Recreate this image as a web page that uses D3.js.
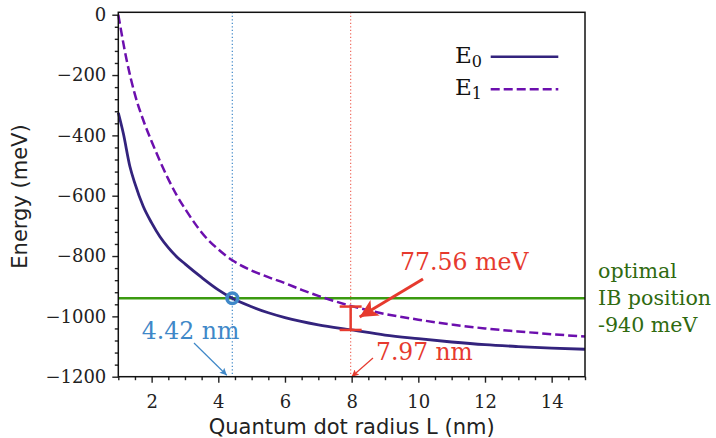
<!DOCTYPE html>
<html><head><meta charset="utf-8">
<script src="https://cdn.jsdelivr.net/npm/d3@7"></script>
<style>body{margin:0;background:#fff}</style>
</head><body>
<svg id="chart" width="716" height="438"></svg>
<script>
// Data
const radiusE0 = [1, 1.15, 1.35, 1.5, 1.75, 2, 2.25, 2.5, 2.75, 3, 3.5, 4, 4.42, 5, 5.5, 6, 7, 8, 9, 10, 11, 12, 13, 14, 15];
const energyE0 = [-325, -393, -504, -560, -636, -690, -736, -772, -802, -826, -871, -912, -940, -968, -988, -1004, -1028, -1045, -1062, -1074, -1085, -1094, -1100, -1105, -1109];
const radiusE1 = [1, 1.25, 1.5, 1.75, 2, 2.25, 2.5, 2.75, 3, 3.35, 3.5, 4, 4.42, 5, 5.5, 6, 6.5, 7, 7.5, 8, 9, 10, 11, 12, 13, 14, 15];
const energyE1 = [0, -150, -265, -350, -420, -485, -545, -598, -643, -700, -722, -778, -814, -848, -870, -890, -912, -932, -950, -966, -992, -1011, -1027, -1040, -1050, -1059, -1067];
const xTicks = [2, 4, 6, 8, 10, 12, 14];
const yTicks = [0, -200, -400, -600, -800, -1000, -1200];
const seriesNames = ["E0", "E1"];
const ibPosition = -940;
const crossingRadius = 4.42;
const gapRadius = 7.97;
const gapTop = -967.5;
const gapBottom = -1045;
const gapLabel = "77.56 meV";

(function () {
const svg = d3.select("#chart");
const pLeft = 118.3, pRight = 585, pTop = 12.3, pBottom = 376.7;
const x = d3.scaleLinear().domain([1, 15]).range([pLeft, pRight]);
const y = d3.scaleLinear().domain([-1200, 8]).range([pBottom, pTop]);

const colE0 = "#33237d", colE1 = "#6c0fae", colGreen = "#3b9a10", colBlue = "#3f88c8", colRed = "#e63a2e", colText = "#2f6a10";
const serif = "DejaVu Serif";

const defs = svg.append("defs");
defs.append("marker").attr("id","bigred").attr("viewBox","0 0 10 10").attr("refX",10).attr("refY",5)
  .attr("markerUnits","userSpaceOnUse").attr("markerWidth",22).attr("markerHeight",18).attr("orient","auto")
  .append("path").attr("d","M0,0 L10,5 L0,10 L2.5,5 Z").attr("fill",colRed);
defs.append("marker").attr("id","smallred").attr("viewBox","0 0 10 10").attr("refX",10).attr("refY",5)
  .attr("markerUnits","userSpaceOnUse").attr("markerWidth",9).attr("markerHeight",7).attr("orient","auto")
  .append("path").attr("d","M0,0 L10,5 L0,10 L2,5 Z").attr("fill",colRed);
defs.append("marker").attr("id","smallblue").attr("viewBox","0 0 10 10").attr("refX",10).attr("refY",5)
  .attr("markerUnits","userSpaceOnUse").attr("markerWidth",9).attr("markerHeight",7).attr("orient","auto")
  .append("path").attr("d","M0,0 L10,5 L0,10 L2,5 Z").attr("fill",colBlue);

// vertical dotted guides
svg.append("line").attr("x1", x(crossingRadius)).attr("x2", x(crossingRadius)).attr("y1", pTop).attr("y2", pBottom)
  .attr("stroke", colBlue).attr("stroke-width", 1.2).attr("stroke-dasharray", "1.3,2.2");
svg.append("line").attr("x1", x(gapRadius)).attr("x2", x(gapRadius)).attr("y1", pTop).attr("y2", pBottom)
  .attr("stroke", "#ef6a5e").attr("stroke-width", 1.2).attr("stroke-dasharray", "1.3,2.2");

// green IB line
svg.append("line").attr("x1", x(1)).attr("x2", x(15)).attr("y1", y(ibPosition)).attr("y2", y(ibPosition))
  .attr("stroke", colGreen).attr("stroke-width", 2.6);

// curves
const line = d3.line().curve(d3.curveMonotoneX);
svg.append("path").attr("d", line(radiusE1.map((r,i)=>[x(r), y(energyE1[i])])))
  .attr("fill","none").attr("stroke", colE1).attr("stroke-width", 2.5).attr("stroke-dasharray","9,4");
svg.append("path").attr("d", line(radiusE0.map((r,i)=>[x(r), y(energyE0[i])])))
  .attr("fill","none").attr("stroke", colE0).attr("stroke-width", 2.8);

// marker circle
svg.append("circle").attr("cx", x(crossingRadius)).attr("cy", y(ibPosition)).attr("r", 5.3)
  .attr("fill","none").attr("stroke", colBlue).attr("stroke-width", 3.6);

// error bar
const gx = x(gapRadius);
svg.append("line").attr("x1",gx).attr("x2",gx).attr("y1",y(gapTop)).attr("y2",y(gapBottom)).attr("stroke",colRed).attr("stroke-width",2.5);
[gapTop, gapBottom].forEach(v => svg.append("line").attr("x1",gx-11).attr("x2",gx+11).attr("y1",y(v)).attr("y2",y(v)).attr("stroke",colRed).attr("stroke-width",2.5));

// annotation arrows
svg.append("line").attr("x1",423).attr("y1",279).attr("x2",gx+9).attr("y2",317)
  .attr("stroke",colRed).attr("stroke-width",3).attr("marker-end","url(#bigred)");
svg.append("line").attr("x1",373).attr("y1",358).attr("x2",x(gapRadius)+1).attr("y2",pBottom)
  .attr("stroke",colRed).attr("stroke-width",1.2).attr("marker-end","url(#smallred)");
svg.append("line").attr("x1",194).attr("y1",343).attr("x2",x(crossingRadius)-5.5).attr("y2",pBottom-1.5)
  .attr("stroke",colBlue).attr("stroke-width",1.2).attr("marker-end","url(#smallblue)");

// annotation texts
svg.append("text").attr("x",400).attr("y",270).attr("fill",colRed).attr("font-family",serif).attr("font-size",23.6).text(gapLabel);
svg.append("text").attr("x",376).attr("y",360).attr("fill",colRed).attr("font-family",serif).attr("font-size",23.4).text(gapRadius.toFixed(2)+" nm");
svg.append("text").attr("x",141.7).attr("y",339).attr("fill",colBlue).attr("font-family",serif).attr("font-size",23.6).text(crossingRadius.toFixed(2)+" nm");
const ibText = svg.append("text").attr("fill",colText).attr("font-family",serif).attr("font-size",20.6);
["optimal","IB position", ibPosition + " meV"].forEach((t,i)=>ibText.append("tspan").attr("x",598).attr("y",278.3+i*26.7).text(t));

// axes
const xAxis = d3.axisBottom(x).tickValues(xTicks).tickSizeOuter(0).tickSize(6).tickPadding(13).tickFormat(d3.format("d"));
const gX = svg.append("g").attr("transform",`translate(0,${pBottom})`).call(xAxis);
const yAxis = d3.axisLeft(y).tickValues(yTicks).tickSizeOuter(0).tickSize(6).tickPadding(6)
  .tickFormat(d => d < 0 ? "\u2212" + Math.abs(d) : String(d));
const gY = svg.append("g").attr("transform",`translate(${pLeft},0)`).call(yAxis);
svg.append("g").attr("transform",`translate(0,${pBottom})`)
  .call(d3.axisBottom(x).tickValues(d3.range(1, 15.01, 0.5).filter(v=>!xTicks.includes(v))).tickSize(3.5).tickFormat(""))
  .call(g=>g.select(".domain").remove());
svg.append("g").attr("transform",`translate(${pLeft},0)`)
  .call(d3.axisLeft(y).tickValues(d3.range(-1200, 1, 40).filter(v=>!yTicks.includes(v))).tickSize(3.5).tickFormat(""))
  .call(g=>g.select(".domain").remove());
svg.selectAll(".tick line").attr("stroke","#222").attr("stroke-width",1.4);
[gX, gY].forEach(g => {
  g.select(".domain").remove();
  g.attr("font-family", serif);
  g.selectAll("text").attr("font-family",serif).attr("font-size",18).attr("fill","#222");
});
svg.append("rect").attr("x",pLeft).attr("y",pTop).attr("width",pRight-pLeft).attr("height",pBottom-pTop)
  .attr("fill","none").attr("stroke","#111").attr("stroke-width",1.5);

// axis labels
svg.append("text").attr("x",(pLeft+pRight)/2).attr("y",434).attr("text-anchor","middle")
  .attr("font-family","DejaVu Sans").attr("font-size",21).attr("fill","#222").text("Quantum dot radius L (nm)");
svg.append("text").attr("transform",`translate(27,${(pTop+pBottom)/2+2}) rotate(-90)`).attr("text-anchor","middle")
  .attr("font-family","DejaVu Sans").attr("font-size",21).attr("fill","#222").text("Energy (meV)");

// legend
const legend = svg.append("g");
[[seriesNames[0], colE0, null, 63.3, 56.7], [seriesNames[1], colE1, "9,4", 95, 89.3]].forEach(([n,c,dash,by,ly])=>{
  const t = legend.append("text").attr("x",455).attr("y",by).attr("font-family",serif).attr("font-size",23).attr("fill","#111");
  t.append("tspan").text(n[0]);
  t.append("tspan").attr("font-size",16).attr("dy",4).text(n.slice(1));
  legend.append("line").attr("x1",490.7).attr("x2",558.3).attr("y1",ly).attr("y2",ly).attr("stroke",c).attr("stroke-width",2.5)
    .attr("stroke-dasharray",dash);
});
})();
</script>
</body></html>
